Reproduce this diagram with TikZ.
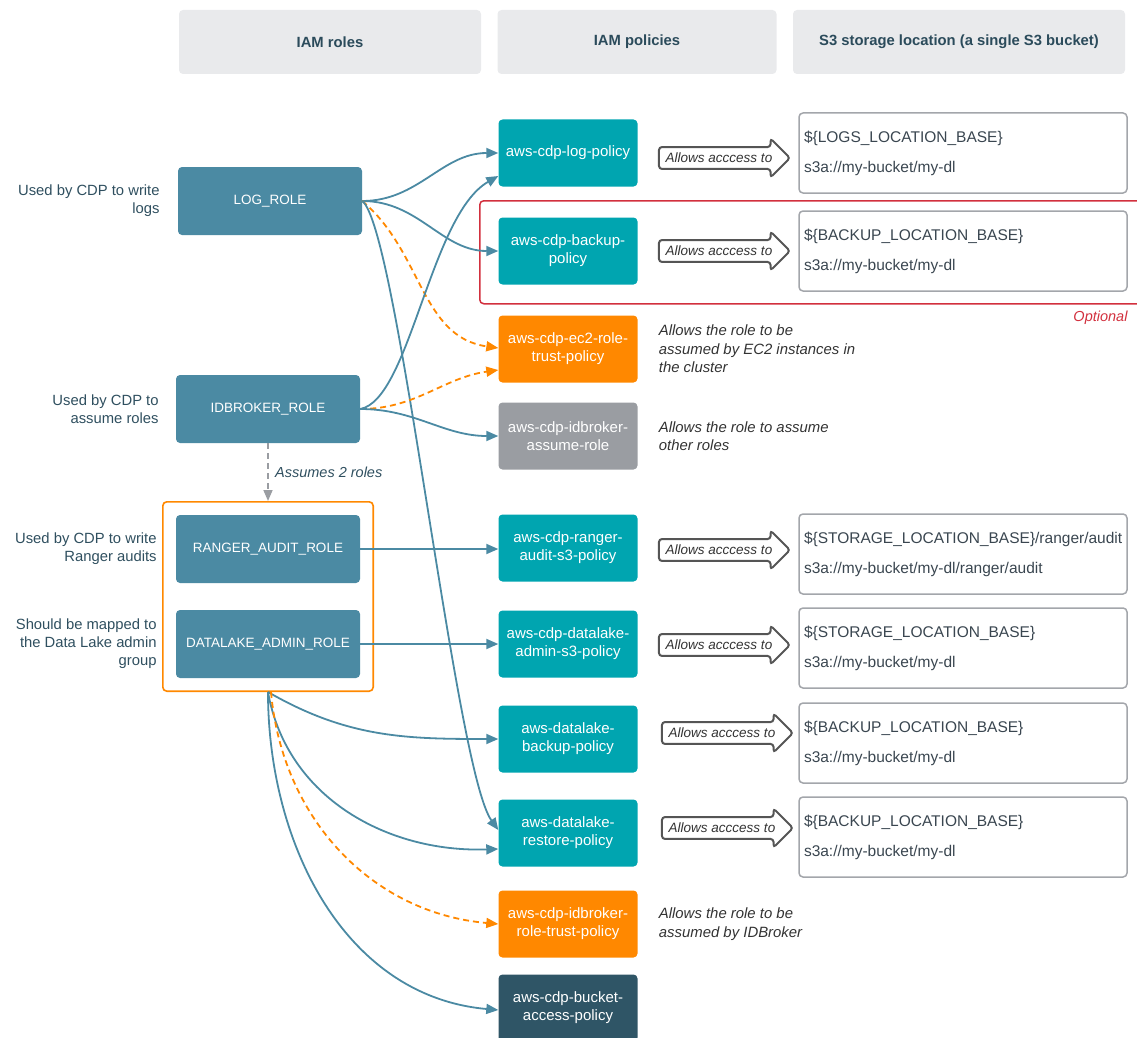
\documentclass[tikz,border=0pt]{standalone}
\usepackage{fontspec}
\setmainfont{Liberation Sans}
\usetikzlibrary{positioning,arrows.meta,shapes.arrows,fit}

\definecolor{rolec}{HTML}{4B8AA3}
\definecolor{polc}{HTML}{00A5B0}
\definecolor{trustc}{HTML}{FF8800}
\definecolor{grayc}{HTML}{9A9DA2}
\definecolor{darkc}{HTML}{2F5566}
\definecolor{headc}{HTML}{E9EAEC}
\definecolor{headtxt}{HTML}{2B4B5B}
\definecolor{lbltxt}{HTML}{2F4F5F}
\definecolor{sttxt}{HTML}{3A4650}
\definecolor{desctxt}{HTML}{333333}
\definecolor{optc}{HTML}{D2303E}
\definecolor{boxline}{HTML}{A3A6AB}
\definecolor{arrline}{HTML}{555555}

\tikzset{
  head/.style={fill=headc, rounded corners=4pt, minimum height=64pt, text=headtxt,
    font=\bfseries\fontsize{14.8}{17}\selectfont},
  role/.style={fill=rolec, rounded corners=4pt, minimum width=184pt, minimum height=68pt,
    text=white, font=\fontsize{13.5}{16}\selectfont},
  pol/.style={fill=polc, rounded corners=4pt, minimum width=139pt, minimum height=67pt,
    text=white, align=center, inner sep=2pt, font=\fontsize{15}{18}\selectfont},
  store/.style={draw=boxline, line width=1.5pt, rounded corners=4pt, minimum width=328pt,
    minimum height=80pt, text width=318pt, align=left, text=sttxt,
    font=\fontsize{15.5}{18}\selectfont},
  acc/.style={single arrow, draw=arrline, line width=2pt, fill=white, rounded corners=3pt,
    single arrow head extend=8.5pt, minimum height=131pt, inner xsep=3pt, inner ysep=5pt,
    text=desctxt, font=\itshape\fontsize{13.5}{15}\selectfont},
  desc/.style={align=left, inner sep=0pt, text=desctxt, font=\itshape\fontsize{14.9}{18.5}\selectfont},
  lbl/.style={align=right, inner sep=0pt, text=lbltxt, font=\fontsize{14.8}{18}\selectfont},
  link/.style={draw=rolec, line width=1.8pt, -{Triangle[length=12pt,width=10pt]}},
  trust/.style={draw=trustc, line width=1.8pt, dash pattern=on 6pt off 4pt,
    -{Triangle[length=12pt,width=10pt]}},
}

\begin{document}
\begin{tikzpicture}[x=1pt, y=-1pt]
  \useasboundingbox (0,0) rectangle (1137,1038);

  % column heads
  \node[head, minimum width=302pt] (hrole) at (330,42) {IAM roles};
  \node[head, minimum width=279pt] (hpol) at (637,42) {IAM policies};
  \node[head, minimum width=332pt] (hstore) at (959,42) {S3 storage location (a single S3 bucket)};

  % roles
  \node[role] (logrole) at (270,201) {LOG\_ROLE};
  \node[role] (idbrole) at (268,409) {IDBROKER\_ROLE};
  \node[role] (ranger) at (268,549) {RANGER\_AUDIT\_ROLE};
  \node[role] (dladmin) at (268,644) {DATALAKE\_ADMIN\_ROLE};
  \node[draw=trustc, line width=1.6pt, rounded corners=4pt, inner xsep=13pt, inner ysep=13pt,
    fit=(ranger)(dladmin)] (grp) {};

  \node[lbl, left=18pt of logrole] (loglbl) {Used by CDP to write\\logs};
  \node[lbl, left=17pt of idbrole] (idblbl) {Used by CDP to\\assume roles};
  \node[lbl, left=19pt of ranger] (rangerlbl) {Used by CDP to write\\Ranger audits};
  \node[lbl, left=19pt of dladmin] (adminlbl) {Should be mapped to\\the Data Lake admin\\group};

  % policies
  \node[pol] (logpol) at (568,153) {aws-cdp-log-policy};
  \node[pol] (backpol) at (568,251) {aws-cdp-backup-\\policy};
  \node[pol, fill=trustc] (ec2pol) at (568,349) {aws-cdp-ec2-role-\\trust-policy};
  \node[pol, fill=grayc] (assumepol) at (568,436) {aws-cdp-idbroker-\\assume-role};
  \node[pol] (rangerpol) at (568,548) {aws-cdp-ranger-\\audit-s3-policy};
  \node[pol] (adminpol) at (568,644) {aws-cdp-datalake-\\admin-s3-policy};
  \node[pol] (dlbackpol) at (568,739) {aws-datalake-\\backup-policy};
  \node[pol] (dlrestpol) at (568,833) {aws-datalake-\\restore-policy};
  \node[pol, fill=trustc] (idbtrustpol) at (568,924) {aws-cdp-idbroker-\\role-trust-policy};
  \node[pol, fill=darkc] (bucketpol) at (568,1008) {aws-cdp-bucket-\\access-policy};

  \node[desc, right=21pt of ec2pol] (ec2txt) {Allows the role to be\\assumed by EC2 instances in\\the cluster};
  \node[desc, right=21pt of assumepol] (assumetxt) {Allows the role to assume\\other roles};
  \node[desc, right=21pt of idbtrustpol] (idbtrusttxt) {Allows the role to be\\assumed by IDBroker};

  % storage
  \node[store] (logst) at (963,153) {\$\{LOGS\_LOCATION\_BASE\}\\[12pt]s3a://my-bucket/my-dl};
  \node[store] (backst) at (963,251) {\$\{BACKUP\_LOCATION\_BASE\}\\[12pt]s3a://my-bucket/my-dl};
  \node[store] (rangerst) at (963,554) {\$\{STORAGE\_LOCATION\_BASE\}/ranger/audit\\[12pt]s3a://my-bucket/my-dl/ranger/audit};
  \node[store] (adminst) at (963,648) {\$\{STORAGE\_LOCATION\_BASE\}\\[12pt]s3a://my-bucket/my-dl};
  \node[store] (dlbackst) at (963,743) {\$\{BACKUP\_LOCATION\_BASE\}\\[12pt]s3a://my-bucket/my-dl};
  \node[store] (dlrestst) at (963,837) {\$\{BACKUP\_LOCATION\_BASE\}\\[12pt]s3a://my-bucket/my-dl};

  \foreach \i/\ax/\ay in {1/719/158, 2/719/251, 3/719/550, 4/719/645, 5/722/733, 6/722/828}
    {\node[acc] (acc\i) at (\ax,\ay) {Allows acccess to};}

  % optional part
  \node[draw=optc, line width=1.5pt, rounded corners=4pt, anchor=north west,
    minimum width=680pt, minimum height=103pt] (opt) at (479,200) {};
  \node[anchor=east, text=optc, font=\itshape\fontsize{14.5}{17}\selectfont] (opttxt) at (1131,318) {Optional};

  % links
  \draw[link] (logrole.east) to[out=0, in=180] (logpol.west);
  \draw[link] (logrole.east) to[out=0, in=180] (backpol.west);
  \draw[trust] (logrole.east) to[out=-40, in=172] ([yshift=1pt]ec2pol.west);
  \draw[link] (logrole.east) .. controls (398,228) and (455,770) .. ([yshift=3pt]dlrestpol.west);
  \draw[link] (idbrole.east) .. controls (410,400) and (430,215) .. ([yshift=-23pt]logpol.west);
  \draw[trust] (idbrole.east) to[out=0, in=188] ([yshift=-21pt]ec2pol.west);
  \draw[link] (idbrole.east) to[out=0, in=180] (assumepol.west);
  \draw[draw=grayc, line width=1.6pt, dash pattern=on 6pt off 4pt, -{Triangle[length=11pt,width=9pt]}]
    (idbrole.south) -- node[right=3pt, text=lbltxt, font=\itshape\fontsize{14.5}{17}\selectfont] (asmtxt) {Assumes 2 roles} (grp.north);
  \draw[link] (ranger.east) -- (ranger.east -| rangerpol.west);
  \draw[link] (dladmin.east) -- (dladmin.east -| adminpol.west);
  \draw[link] (grp.south) to[out=-30, in=180] (dlbackpol.west);
  \draw[link] (grp.south) to[out=-80, in=182] ([yshift=-16pt]dlrestpol.west);
  \draw[trust] ([xshift=3pt]grp.south) to[out=-85, in=175] (idbtrustpol.west);
  \draw[link] (grp.south) to[out=-90, in=175] ([yshift=-2pt]bucketpol.west);
\end{tikzpicture}
\end{document}
